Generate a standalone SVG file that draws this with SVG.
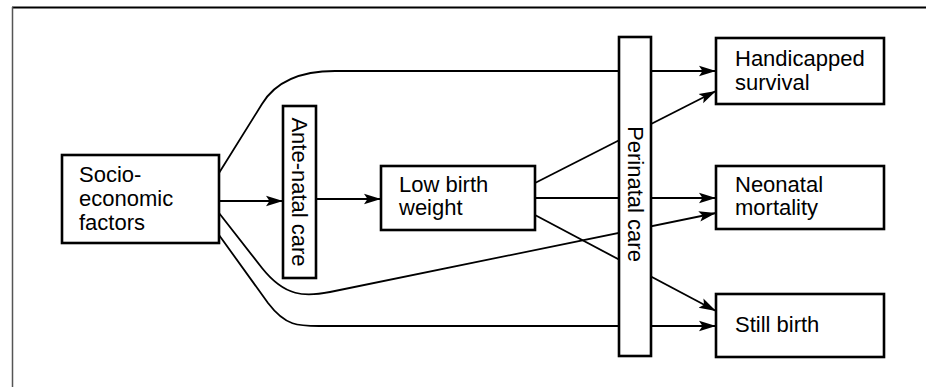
<svg xmlns="http://www.w3.org/2000/svg" width="926" height="387" viewBox="0 0 926 387">
  <style>
    .box { fill: #ffffff; stroke: #000000; stroke-width: 2.6; }
    .lbl { font-family: "Liberation Sans", Arial, Helvetica, sans-serif; font-size: 22px; fill: #000000; }
    .edge { fill: none; stroke: #000000; stroke-width: 1.8; }
    .arrow { marker-end: url(#head); }
  </style>
  <defs>
    <marker id="head" markerUnits="userSpaceOnUse" markerWidth="18" markerHeight="12" refX="17" refY="6" orient="auto">
      <path d="M0,0.8 L17,6 L0,11.2 L3.5,6 Z" fill="#000000"/>
    </marker>
  </defs>

  <rect width="926" height="387" fill="#ffffff"/>

  <!-- frame -->
  <g id="frame">
    <line x1="12" y1="7.5" x2="926" y2="7.5" stroke="#000000" stroke-width="2"/>
    <line x1="12.5" y1="7" x2="12.5" y2="387" stroke="#555555" stroke-width="1.5"/>
  </g>

  <!-- connectors -->
  <g id="connectors">
    <path class="edge arrow" d="M219,173 L262,104 Q282,71 335,71 L716,71"/>
    <path class="edge arrow" d="M219,201 L283,201"/>
    <path class="edge arrow" d="M316,199 L381,199"/>
    <path class="edge arrow" d="M535,183 L716,91"/>
    <path class="edge arrow" d="M535,198 L716,198"/>
    <path class="edge arrow" d="M535,215 L716,311"/>
    <path class="edge arrow" d="M219,213 L262,268 C285,297 305,297 330,292 L716,213"/>
    <path class="edge arrow" d="M219,235 L268,303 C287,328 300,326 326,326 L716,326"/>
  </g>

  <!-- nodes -->
  <g id="socio-economic">
    <rect class="box" x="62" y="155" width="157" height="88"/>
    <text class="lbl" x="79" y="182">Socio-</text>
    <text class="lbl" x="79" y="206">economic</text>
    <text class="lbl" x="79" y="230">factors</text>
  </g>

  <g id="ante-natal">
    <rect class="box" x="283" y="106" width="33" height="172"/>
    <text class="lbl" transform="translate(299.5,192) rotate(90)" text-anchor="middle" dominant-baseline="central">Ante-natal care</text>
  </g>

  <g id="low-birth-weight">
    <rect class="box" x="381" y="166" width="154" height="64"/>
    <text class="lbl" x="399" y="192">Low birth</text>
    <text class="lbl" x="399" y="215">weight</text>
  </g>

  <g id="perinatal">
    <rect class="box" x="619" y="37" width="32" height="319"/>
    <text class="lbl" transform="translate(635,194) rotate(90)" text-anchor="middle" dominant-baseline="central">Perinatal care</text>
  </g>

  <g id="handicapped">
    <rect class="box" x="716" y="38" width="168" height="66"/>
    <text class="lbl" x="735" y="66">Handicapped</text>
    <text class="lbl" x="735" y="90">survival</text>
  </g>

  <g id="neonatal">
    <rect class="box" x="716" y="166" width="168" height="63"/>
    <text class="lbl" x="735" y="192">Neonatal</text>
    <text class="lbl" x="735" y="215">mortality</text>
  </g>

  <g id="still-birth">
    <rect class="box" x="716" y="294" width="168" height="63"/>
    <text class="lbl" x="735" y="332">Still birth</text>
  </g>
</svg>
